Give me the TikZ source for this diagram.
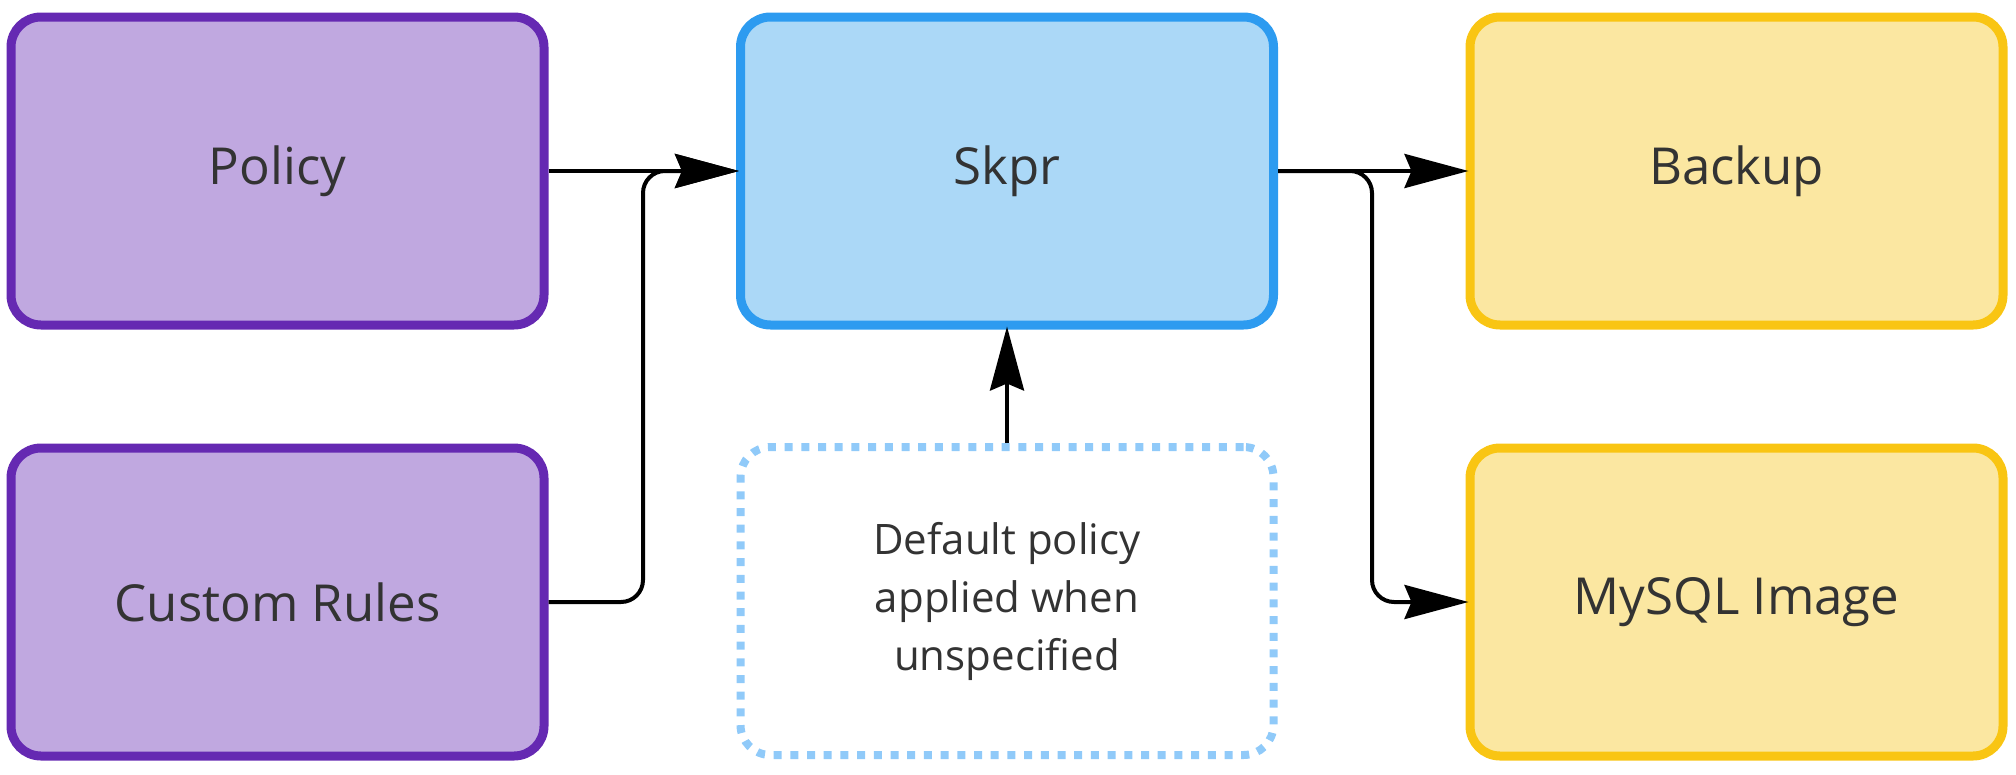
\documentclass[tikz,border=0pt]{standalone}
\usepackage{fontspec}
\setmainfont{Open Sans}
\usetikzlibrary{arrows.meta}
\definecolor{pfill}{RGB}{192,168,224}
\definecolor{pdraw}{RGB}{101,41,178}
\definecolor{bfill}{RGB}{171,216,247}
\definecolor{bdraw}{RGB}{45,155,240}
\definecolor{yfill}{RGB}{251,231,161}
\definecolor{ydraw}{RGB}{249,197,19}
\definecolor{dotc}{RGB}{144,202,249}
\definecolor{txt}{RGB}{51,51,51}
\tikzset{
  box/.style={rectangle, rounded corners=30pt, line width=9pt, minimum width=533pt, minimum height=308pt, text=txt, font=\fontsize{51}{60}\selectfont},
  purplebox/.style={box, draw=pdraw, fill=pfill},
  bluebox/.style={box, draw=bdraw, fill=bfill},
  yellowbox/.style={box, draw=ydraw, fill=yfill},
  dotbox/.style={rectangle, rounded corners=30pt, line width=8pt, draw=dotc, dash pattern=on 8pt off 8.7pt, minimum width=533pt, minimum height=308pt, text=txt, align=center, font=\fontsize{42}{58}\selectfont},
  conn/.style={line width=4pt, draw=black, rounded corners=22pt},
  tip/.style={-{Stealth[length=64pt, width=34pt, inset=7pt]}, shorten >=-3pt}
}
\begin{document}
\begin{tikzpicture}[x=1pt, y=-1pt]
\useasboundingbox (0,0) rectangle (2016,774);
\node[purplebox] (policy) at (277.5,171) {Policy};
\node[purplebox] (custom) at (277.5,602) {Custom Rules};
\node[bluebox] (skpr) at (1007,171) {Skpr};
\node[dotbox] (default) at (1007,601) {Default policy\\applied when\\unspecified};
\node[yellowbox] (backup) at (1736.5,171) {Backup};
\node[yellowbox] (mysql) at (1736.5,602) {MySQL Image};
\coordinate (c1) at (643,602);
\coordinate (c2) at (643,171);
\coordinate (d1) at (1372,171);
\coordinate (d2) at (1372,602);
\draw[conn, tip] (policy.east) -- (skpr.west);
\draw[conn, tip] (custom.east) -- (c1) -- (c2) -- (skpr.west);
\draw[conn, tip] (skpr.east) -- (backup.west);
\draw[conn, tip] (skpr.east) -- (d1) -- (d2) -- (mysql.west);
\draw[conn, tip] (default.north) -- (skpr.south);
\end{tikzpicture}
\end{document}
